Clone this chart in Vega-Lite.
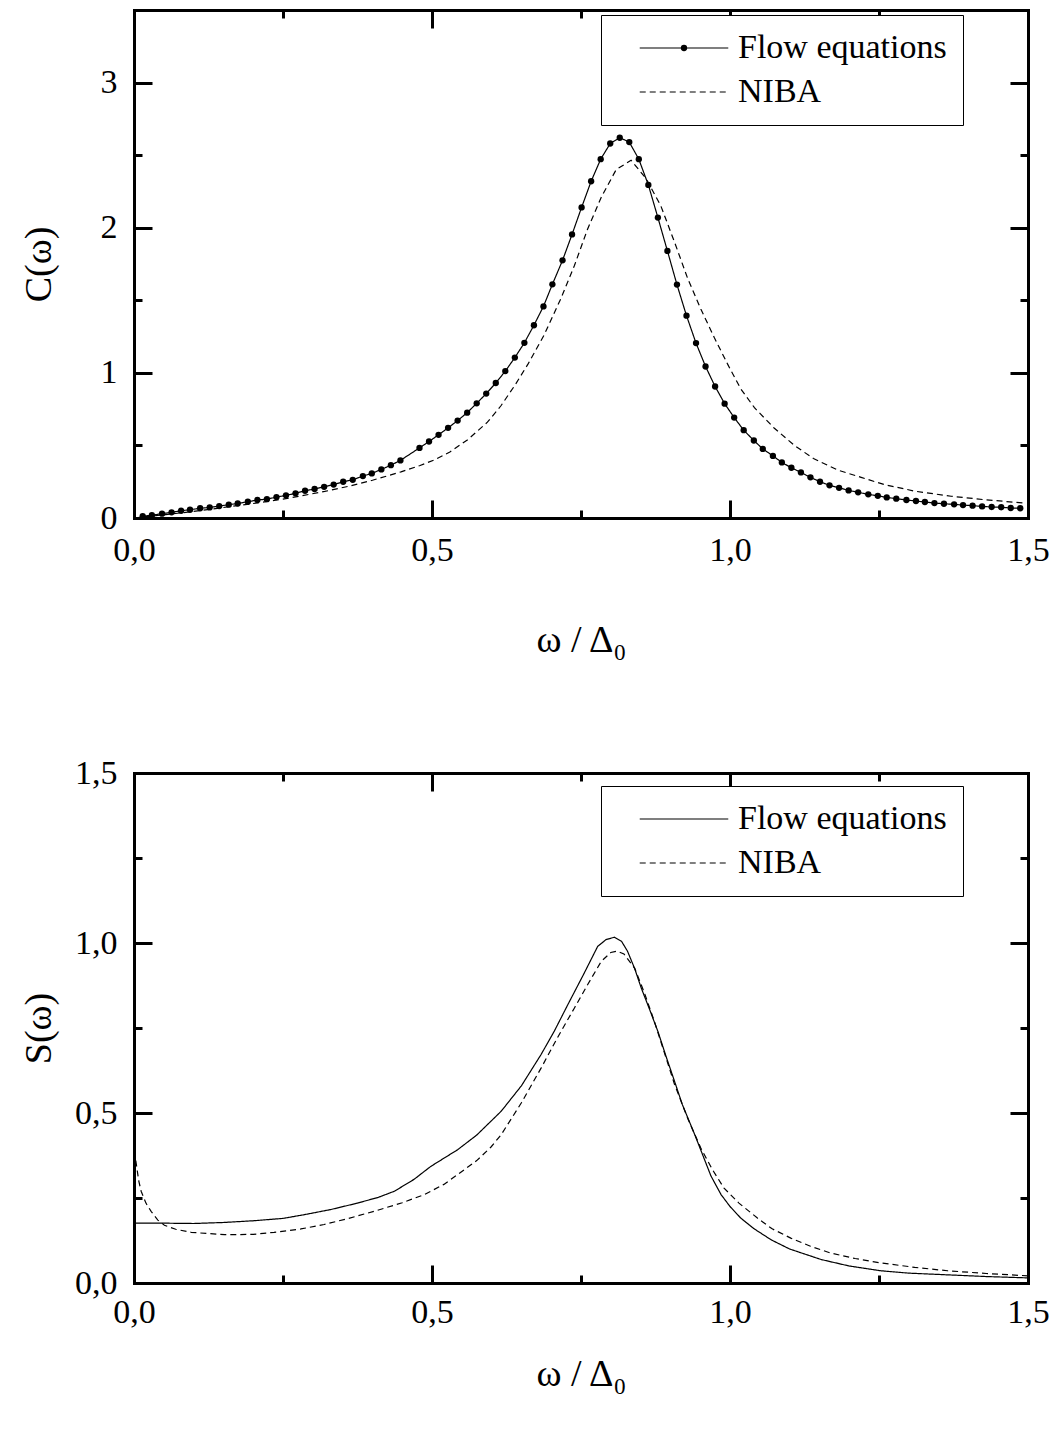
{
  "$schema": "https://vega.github.io/schema/vega-lite/v6.json",
  "background": "white",
  "padding": {"left": 20, "top": 10, "right": 2, "bottom": 2},
  "spacing": 255,
  "bounds": "flush",
  "resolve": {"scale": {"strokeDash": "independent", "shape": "independent"}},
  "config": {
    "font": "Liberation Serif",
    "view": {"stroke": null},
    "axis": {
      "grid": false,
      "ticks": false,
      "domainColor": "black",
      "domainWidth": 3,
      "domainCap": "square",
      "gridColor": "black",
      "gridWidth": 3,
      "gridOpacity": 1,
      "labelFont": "Liberation Serif",
      "labelFontSize": 34,
      "labelColor": "black",
      "labelFlush": false,
      "labelOverlap": false,
      "titleFont": "Liberation Serif",
      "titleFontSize": 38,
      "titleFontWeight": "normal",
      "titleColor": "black"
    },
    "legend": {
      "labelFont": "Liberation Serif",
      "labelFontSize": 34,
      "labelColor": "black",
      "labelLimit": 400
    }
  },
  "vconcat": [
    {
      "width": 894,
      "height": 508,
      "data": {"values": [
        {"omega": 0.0146, "value": 0.012, "series": "Flow equations"},
        {"omega": 0.030, "value": 0.019, "series": "Flow equations"},
        {"omega": 0.047, "value": 0.030, "series": "Flow equations"},
        {"omega": 0.063, "value": 0.039, "series": "Flow equations"},
        {"omega": 0.079, "value": 0.050, "series": "Flow equations"},
        {"omega": 0.094, "value": 0.057, "series": "Flow equations"},
        {"omega": 0.111, "value": 0.067, "series": "Flow equations"},
        {"omega": 0.127, "value": 0.073, "series": "Flow equations"},
        {"omega": 0.143, "value": 0.082, "series": "Flow equations"},
        {"omega": 0.159, "value": 0.092, "series": "Flow equations"},
        {"omega": 0.174, "value": 0.100, "series": "Flow equations"},
        {"omega": 0.191, "value": 0.112, "series": "Flow equations"},
        {"omega": 0.207, "value": 0.124, "series": "Flow equations"},
        {"omega": 0.223, "value": 0.130, "series": "Flow equations"},
        {"omega": 0.239, "value": 0.144, "series": "Flow equations"},
        {"omega": 0.255, "value": 0.156, "series": "Flow equations"},
        {"omega": 0.271, "value": 0.170, "series": "Flow equations"},
        {"omega": 0.287, "value": 0.188, "series": "Flow equations"},
        {"omega": 0.303, "value": 0.200, "series": "Flow equations"},
        {"omega": 0.319, "value": 0.215, "series": "Flow equations"},
        {"omega": 0.335, "value": 0.230, "series": "Flow equations"},
        {"omega": 0.351, "value": 0.250, "series": "Flow equations"},
        {"omega": 0.367, "value": 0.263, "series": "Flow equations"},
        {"omega": 0.384, "value": 0.289, "series": "Flow equations"},
        {"omega": 0.399, "value": 0.307, "series": "Flow equations"},
        {"omega": 0.415, "value": 0.335, "series": "Flow equations"},
        {"omega": 0.431, "value": 0.364, "series": "Flow equations"},
        {"omega": 0.447, "value": 0.397, "series": "Flow equations"},
        {"omega": 0.479, "value": 0.483, "series": "Flow equations"},
        {"omega": 0.495, "value": 0.527, "series": "Flow equations"},
        {"omega": 0.511, "value": 0.573, "series": "Flow equations"},
        {"omega": 0.527, "value": 0.621, "series": "Flow equations"},
        {"omega": 0.543, "value": 0.671, "series": "Flow equations"},
        {"omega": 0.559, "value": 0.726, "series": "Flow equations"},
        {"omega": 0.575, "value": 0.790, "series": "Flow equations"},
        {"omega": 0.591, "value": 0.857, "series": "Flow equations"},
        {"omega": 0.607, "value": 0.930, "series": "Flow equations"},
        {"omega": 0.623, "value": 1.012, "series": "Flow equations"},
        {"omega": 0.639, "value": 1.105, "series": "Flow equations"},
        {"omega": 0.655, "value": 1.207, "series": "Flow equations"},
        {"omega": 0.671, "value": 1.328, "series": "Flow equations"},
        {"omega": 0.687, "value": 1.458, "series": "Flow equations"},
        {"omega": 0.702, "value": 1.610, "series": "Flow equations"},
        {"omega": 0.719, "value": 1.775, "series": "Flow equations"},
        {"omega": 0.735, "value": 1.954, "series": "Flow equations"},
        {"omega": 0.751, "value": 2.140, "series": "Flow equations"},
        {"omega": 0.767, "value": 2.320, "series": "Flow equations"},
        {"omega": 0.783, "value": 2.472, "series": "Flow equations"},
        {"omega": 0.799, "value": 2.580, "series": "Flow equations"},
        {"omega": 0.815, "value": 2.620, "series": "Flow equations"},
        {"omega": 0.831, "value": 2.590, "series": "Flow equations"},
        {"omega": 0.847, "value": 2.472, "series": "Flow equations"},
        {"omega": 0.863, "value": 2.295, "series": "Flow equations"},
        {"omega": 0.879, "value": 2.070, "series": "Flow equations"},
        {"omega": 0.895, "value": 1.840, "series": "Flow equations"},
        {"omega": 0.911, "value": 1.608, "series": "Flow equations"},
        {"omega": 0.927, "value": 1.394, "series": "Flow equations"},
        {"omega": 0.943, "value": 1.205, "series": "Flow equations"},
        {"omega": 0.959, "value": 1.044, "series": "Flow equations"},
        {"omega": 0.975, "value": 0.906, "series": "Flow equations"},
        {"omega": 0.991, "value": 0.788, "series": "Flow equations"},
        {"omega": 1.007, "value": 0.692, "series": "Flow equations"},
        {"omega": 1.023, "value": 0.605, "series": "Flow equations"},
        {"omega": 1.040, "value": 0.534, "series": "Flow equations"},
        {"omega": 1.055, "value": 0.476, "series": "Flow equations"},
        {"omega": 1.072, "value": 0.428, "series": "Flow equations"},
        {"omega": 1.087, "value": 0.383, "series": "Flow equations"},
        {"omega": 1.103, "value": 0.346, "series": "Flow equations"},
        {"omega": 1.119, "value": 0.314, "series": "Flow equations"},
        {"omega": 1.135, "value": 0.280, "series": "Flow equations"},
        {"omega": 1.151, "value": 0.250, "series": "Flow equations"},
        {"omega": 1.167, "value": 0.225, "series": "Flow equations"},
        {"omega": 1.183, "value": 0.208, "series": "Flow equations"},
        {"omega": 1.199, "value": 0.190, "series": "Flow equations"},
        {"omega": 1.215, "value": 0.177, "series": "Flow equations"},
        {"omega": 1.232, "value": 0.163, "series": "Flow equations"},
        {"omega": 1.248, "value": 0.153, "series": "Flow equations"},
        {"omega": 1.263, "value": 0.142, "series": "Flow equations"},
        {"omega": 1.279, "value": 0.133, "series": "Flow equations"},
        {"omega": 1.296, "value": 0.124, "series": "Flow equations"},
        {"omega": 1.312, "value": 0.117, "series": "Flow equations"},
        {"omega": 1.327, "value": 0.110, "series": "Flow equations"},
        {"omega": 1.343, "value": 0.103, "series": "Flow equations"},
        {"omega": 1.359, "value": 0.098, "series": "Flow equations"},
        {"omega": 1.376, "value": 0.094, "series": "Flow equations"},
        {"omega": 1.391, "value": 0.089, "series": "Flow equations"},
        {"omega": 1.407, "value": 0.085, "series": "Flow equations"},
        {"omega": 1.423, "value": 0.080, "series": "Flow equations"},
        {"omega": 1.439, "value": 0.076, "series": "Flow equations"},
        {"omega": 1.455, "value": 0.074, "series": "Flow equations"},
        {"omega": 1.471, "value": 0.069, "series": "Flow equations"},
        {"omega": 1.487, "value": 0.067, "series": "Flow equations"},
        {"omega": 0.0, "value": 0.0, "series": "NIBA"},
        {"omega": 0.05, "value": 0.022, "series": "NIBA"},
        {"omega": 0.10, "value": 0.045, "series": "NIBA"},
        {"omega": 0.157, "value": 0.076, "series": "NIBA"},
        {"omega": 0.20, "value": 0.100, "series": "NIBA"},
        {"omega": 0.25, "value": 0.130, "series": "NIBA"},
        {"omega": 0.28, "value": 0.152, "series": "NIBA"},
        {"omega": 0.32, "value": 0.183, "series": "NIBA"},
        {"omega": 0.364, "value": 0.222, "series": "NIBA"},
        {"omega": 0.40, "value": 0.260, "series": "NIBA"},
        {"omega": 0.448, "value": 0.318, "series": "NIBA"},
        {"omega": 0.48, "value": 0.362, "series": "NIBA"},
        {"omega": 0.504, "value": 0.400, "series": "NIBA"},
        {"omega": 0.53, "value": 0.455, "series": "NIBA"},
        {"omega": 0.56, "value": 0.540, "series": "NIBA"},
        {"omega": 0.593, "value": 0.660, "series": "NIBA"},
        {"omega": 0.616, "value": 0.775, "series": "NIBA"},
        {"omega": 0.64, "value": 0.920, "series": "NIBA"},
        {"omega": 0.661, "value": 1.060, "series": "NIBA"},
        {"omega": 0.688, "value": 1.260, "series": "NIBA"},
        {"omega": 0.716, "value": 1.510, "series": "NIBA"},
        {"omega": 0.739, "value": 1.740, "series": "NIBA"},
        {"omega": 0.761, "value": 1.990, "series": "NIBA"},
        {"omega": 0.784, "value": 2.210, "series": "NIBA"},
        {"omega": 0.809, "value": 2.400, "series": "NIBA"},
        {"omega": 0.834, "value": 2.465, "series": "NIBA"},
        {"omega": 0.859, "value": 2.340, "series": "NIBA"},
        {"omega": 0.884, "value": 2.150, "series": "NIBA"},
        {"omega": 0.907, "value": 1.900, "series": "NIBA"},
        {"omega": 0.929, "value": 1.650, "series": "NIBA"},
        {"omega": 0.951, "value": 1.440, "series": "NIBA"},
        {"omega": 0.974, "value": 1.240, "series": "NIBA"},
        {"omega": 0.996, "value": 1.060, "series": "NIBA"},
        {"omega": 1.018, "value": 0.890, "series": "NIBA"},
        {"omega": 1.041, "value": 0.760, "series": "NIBA"},
        {"omega": 1.074, "value": 0.620, "series": "NIBA"},
        {"omega": 1.108, "value": 0.500, "series": "NIBA"},
        {"omega": 1.14, "value": 0.410, "series": "NIBA"},
        {"omega": 1.181, "value": 0.330, "series": "NIBA"},
        {"omega": 1.22, "value": 0.280, "series": "NIBA"},
        {"omega": 1.259, "value": 0.230, "series": "NIBA"},
        {"omega": 1.31, "value": 0.185, "series": "NIBA"},
        {"omega": 1.371, "value": 0.150, "series": "NIBA"},
        {"omega": 1.43, "value": 0.125, "series": "NIBA"},
        {"omega": 1.494, "value": 0.103, "series": "NIBA"}
      ]},
      "layer": [
        {
          "mark": {"type": "line", "color": "black", "strokeWidth": 1.2},
          "encoding": {
            "x": {"field": "omega", "type": "quantitative", "scale": {"domain": [0, 1.5], "nice": false, "zero": false},
              "axis": {"orient": "bottom", "values": [0, 0.5, 1, 1.5], "title": "ω / Δ₀",
                "labelExpr": "replace(format(datum.value,'.1f'),'.',',')",
                "labelPadding": 15, "titleY": 133, "titleBaseline": "alphabetic",
                "grid": true, "gridDash": [18, 472, 18]}},
            "y": {"field": "value", "type": "quantitative", "scale": {"domain": [0, 3.5], "nice": false},
              "axis": {"orient": "left", "values": [0, 1, 2, 3], "title": "C(ω)",
                "labelExpr": "format(datum.value,'d')",
                "labelPadding": 17, "titleX": -95, "titleBaseline": "middle",
                "grid": true, "gridDash": [18, 858, 18]}},
            "strokeDash": {"field": "series", "type": "nominal",
              "scale": {"domain": ["Flow equations", "NIBA"], "range": [[1, 0], [6, 4]]},
              "legend": {"orient": "none", "legendX": 467, "legendY": 5, "title": null, "zindex": 1,
                "strokeColor": "black", "fillColor": "white", "padding": 16,
                "symbolType": "M-14,0L14,0", "symbolSize": 40, "symbolStrokeWidth": 1.2, "symbolStrokeColor": "black",
                "symbolOffset": 50, "labelOffset": 37, "rowPadding": 10}}
          }
        },
        {
          "transform": [{"filter": "datum.series === 'Flow equations'"}],
          "mark": {"type": "point", "filled": true, "color": "black", "size": 40, "opacity": 1},
          "encoding": {
            "x": {"field": "omega", "type": "quantitative",
              "axis": {"orient": "top", "values": [0.25, 0.75, 1.25], "labels": false, "title": null,
                "grid": true, "gridDash": [8, 492, 8]}},
            "y": {"field": "value", "type": "quantitative",
              "axis": {"orient": "right", "values": [0.5, 1.5, 2.5], "labels": false, "title": null,
                "grid": true, "gridDash": [8, 878, 8]}},
            "shape": {"field": "series", "type": "nominal",
              "scale": {"domain": ["Flow equations"], "range": ["circle"]},
              "legend": {"orient": "none", "legendX": 467, "legendY": 5, "title": null, "zindex": 2,
                "padding": 16, "symbolSize": 40, "symbolStrokeWidth": 1.2, "symbolFillColor": "black",
                "symbolOffset": 50, "labelOffset": 37, "rowPadding": 10, "labelExpr": "''"}}
          }
        }
      ],
      "resolve": {"axis": {"x": "independent", "y": "independent"}}
    },
    {
      "width": 894,
      "height": 510,
      "data": {"values": [
        {"omega": 0.0, "value": 0.176, "series": "Flow equations"},
        {"omega": 0.05, "value": 0.176, "series": "Flow equations"},
        {"omega": 0.10, "value": 0.175, "series": "Flow equations"},
        {"omega": 0.15, "value": 0.178, "series": "Flow equations"},
        {"omega": 0.20, "value": 0.183, "series": "Flow equations"},
        {"omega": 0.25, "value": 0.190, "series": "Flow equations"},
        {"omega": 0.286, "value": 0.201, "series": "Flow equations"},
        {"omega": 0.33, "value": 0.216, "series": "Flow equations"},
        {"omega": 0.375, "value": 0.235, "series": "Flow equations"},
        {"omega": 0.41, "value": 0.252, "series": "Flow equations"},
        {"omega": 0.437, "value": 0.270, "series": "Flow equations"},
        {"omega": 0.47, "value": 0.305, "series": "Flow equations"},
        {"omega": 0.498, "value": 0.343, "series": "Flow equations"},
        {"omega": 0.543, "value": 0.392, "series": "Flow equations"},
        {"omega": 0.575, "value": 0.435, "series": "Flow equations"},
        {"omega": 0.599, "value": 0.476, "series": "Flow equations"},
        {"omega": 0.616, "value": 0.505, "series": "Flow equations"},
        {"omega": 0.65, "value": 0.580, "series": "Flow equations"},
        {"omega": 0.683, "value": 0.672, "series": "Flow equations"},
        {"omega": 0.705, "value": 0.740, "series": "Flow equations"},
        {"omega": 0.728, "value": 0.819, "series": "Flow equations"},
        {"omega": 0.755, "value": 0.910, "series": "Flow equations"},
        {"omega": 0.778, "value": 0.990, "series": "Flow equations"},
        {"omega": 0.792, "value": 1.010, "series": "Flow equations"},
        {"omega": 0.806, "value": 1.017, "series": "Flow equations"},
        {"omega": 0.818, "value": 1.005, "series": "Flow equations"},
        {"omega": 0.828, "value": 0.976, "series": "Flow equations"},
        {"omega": 0.84, "value": 0.925, "series": "Flow equations"},
        {"omega": 0.851, "value": 0.868, "series": "Flow equations"},
        {"omega": 0.865, "value": 0.805, "series": "Flow equations"},
        {"omega": 0.879, "value": 0.740, "series": "Flow equations"},
        {"omega": 0.893, "value": 0.665, "series": "Flow equations"},
        {"omega": 0.907, "value": 0.593, "series": "Flow equations"},
        {"omega": 0.92, "value": 0.525, "series": "Flow equations"},
        {"omega": 0.94, "value": 0.440, "series": "Flow equations"},
        {"omega": 0.968, "value": 0.315, "series": "Flow equations"},
        {"omega": 0.985, "value": 0.260, "series": "Flow equations"},
        {"omega": 1.0, "value": 0.225, "series": "Flow equations"},
        {"omega": 1.018, "value": 0.191, "series": "Flow equations"},
        {"omega": 1.04, "value": 0.160, "series": "Flow equations"},
        {"omega": 1.069, "value": 0.127, "series": "Flow equations"},
        {"omega": 1.10, "value": 0.100, "series": "Flow equations"},
        {"omega": 1.153, "value": 0.069, "series": "Flow equations"},
        {"omega": 1.20, "value": 0.050, "series": "Flow equations"},
        {"omega": 1.253, "value": 0.036, "series": "Flow equations"},
        {"omega": 1.30, "value": 0.029, "series": "Flow equations"},
        {"omega": 1.365, "value": 0.024, "series": "Flow equations"},
        {"omega": 1.43, "value": 0.019, "series": "Flow equations"},
        {"omega": 1.5, "value": 0.015, "series": "Flow equations"},
        {"omega": 0.003, "value": 0.360, "series": "NIBA"},
        {"omega": 0.008, "value": 0.300, "series": "NIBA"},
        {"omega": 0.012, "value": 0.270, "series": "NIBA"},
        {"omega": 0.02, "value": 0.235, "series": "NIBA"},
        {"omega": 0.029, "value": 0.210, "series": "NIBA"},
        {"omega": 0.04, "value": 0.185, "series": "NIBA"},
        {"omega": 0.051, "value": 0.170, "series": "NIBA"},
        {"omega": 0.07, "value": 0.158, "series": "NIBA"},
        {"omega": 0.096, "value": 0.149, "series": "NIBA"},
        {"omega": 0.152, "value": 0.142, "series": "NIBA"},
        {"omega": 0.20, "value": 0.143, "series": "NIBA"},
        {"omega": 0.235, "value": 0.149, "series": "NIBA"},
        {"omega": 0.28, "value": 0.159, "series": "NIBA"},
        {"omega": 0.319, "value": 0.172, "series": "NIBA"},
        {"omega": 0.36, "value": 0.190, "series": "NIBA"},
        {"omega": 0.403, "value": 0.211, "series": "NIBA"},
        {"omega": 0.45, "value": 0.236, "series": "NIBA"},
        {"omega": 0.487, "value": 0.260, "series": "NIBA"},
        {"omega": 0.52, "value": 0.290, "series": "NIBA"},
        {"omega": 0.543, "value": 0.319, "series": "NIBA"},
        {"omega": 0.575, "value": 0.360, "series": "NIBA"},
        {"omega": 0.599, "value": 0.400, "series": "NIBA"},
        {"omega": 0.616, "value": 0.436, "series": "NIBA"},
        {"omega": 0.65, "value": 0.530, "series": "NIBA"},
        {"omega": 0.683, "value": 0.632, "series": "NIBA"},
        {"omega": 0.71, "value": 0.720, "series": "NIBA"},
        {"omega": 0.739, "value": 0.809, "series": "NIBA"},
        {"omega": 0.762, "value": 0.880, "series": "NIBA"},
        {"omega": 0.784, "value": 0.946, "series": "NIBA"},
        {"omega": 0.80, "value": 0.972, "series": "NIBA"},
        {"omega": 0.81, "value": 0.976, "series": "NIBA"},
        {"omega": 0.822, "value": 0.968, "series": "NIBA"},
        {"omega": 0.84, "value": 0.926, "series": "NIBA"},
        {"omega": 0.856, "value": 0.855, "series": "NIBA"},
        {"omega": 0.873, "value": 0.770, "series": "NIBA"},
        {"omega": 0.89, "value": 0.677, "series": "NIBA"},
        {"omega": 0.907, "value": 0.584, "series": "NIBA"},
        {"omega": 0.93, "value": 0.480, "series": "NIBA"},
        {"omega": 0.951, "value": 0.397, "series": "NIBA"},
        {"omega": 0.97, "value": 0.335, "series": "NIBA"},
        {"omega": 0.99, "value": 0.279, "series": "NIBA"},
        {"omega": 1.015, "value": 0.235, "series": "NIBA"},
        {"omega": 1.046, "value": 0.191, "series": "NIBA"},
        {"omega": 1.07, "value": 0.160, "series": "NIBA"},
        {"omega": 1.102, "value": 0.132, "series": "NIBA"},
        {"omega": 1.135, "value": 0.108, "series": "NIBA"},
        {"omega": 1.169, "value": 0.088, "series": "NIBA"},
        {"omega": 1.21, "value": 0.072, "series": "NIBA"},
        {"omega": 1.253, "value": 0.059, "series": "NIBA"},
        {"omega": 1.31, "value": 0.046, "series": "NIBA"},
        {"omega": 1.365, "value": 0.036, "series": "NIBA"},
        {"omega": 1.43, "value": 0.028, "series": "NIBA"},
        {"omega": 1.5, "value": 0.021, "series": "NIBA"}
      ]},
      "layer": [
        {
          "transform": [{"filter": "datum.series === 'Flow equations'"}],
          "mark": {"type": "line", "color": "black", "strokeWidth": 1.2},
          "encoding": {
            "x": {"field": "omega", "type": "quantitative", "scale": {"domain": [0, 1.5], "nice": false, "zero": false},
              "axis": {"orient": "bottom", "values": [0, 0.5, 1, 1.5], "title": "ω / Δ₀",
                "labelExpr": "replace(format(datum.value,'.1f'),'.',',')",
                "labelPadding": 12, "titleY": 102, "titleBaseline": "alphabetic",
                "grid": true, "gridDash": [18, 474, 18]}},
            "y": {"field": "value", "type": "quantitative", "scale": {"domain": [0, 1.5], "nice": false},
              "axis": {"orient": "left", "values": [0, 0.5, 1, 1.5], "title": "S(ω)",
                "labelExpr": "replace(format(datum.value,'.1f'),'.',',')",
                "labelPadding": 17, "titleX": -95, "titleBaseline": "middle",
                "grid": true, "gridDash": [18, 858, 18]}},
            "strokeDash": {"field": "series", "type": "nominal",
              "scale": {"domain": ["Flow equations", "NIBA"], "range": [[1, 0], [6, 4]]},
              "legend": {"orient": "none", "legendX": 467, "legendY": 13, "title": null,
                "strokeColor": "black", "fillColor": "white", "padding": 16,
                "symbolType": "M-14,0L14,0", "symbolSize": 40, "symbolStrokeWidth": 1.2, "symbolStrokeColor": "black",
                "symbolOffset": 50, "labelOffset": 37, "rowPadding": 10}}
          }
        },
        {
          "transform": [{"filter": "datum.series === 'NIBA'"}],
          "mark": {"type": "line", "color": "black", "strokeWidth": 1.2},
          "encoding": {
            "x": {"field": "omega", "type": "quantitative",
              "axis": {"orient": "top", "values": [0.25, 0.75, 1.25], "labels": false, "title": null,
                "grid": true, "gridDash": [8, 494, 8]}},
            "y": {"field": "value", "type": "quantitative",
              "axis": {"orient": "right", "values": [0.25, 0.75, 1.25], "labels": false, "title": null,
                "grid": true, "gridDash": [8, 878, 8]}},
            "strokeDash": {"field": "series", "type": "nominal"}
          }
        }
      ],
      "resolve": {"axis": {"x": "independent", "y": "independent"}}
    }
  ]
}
